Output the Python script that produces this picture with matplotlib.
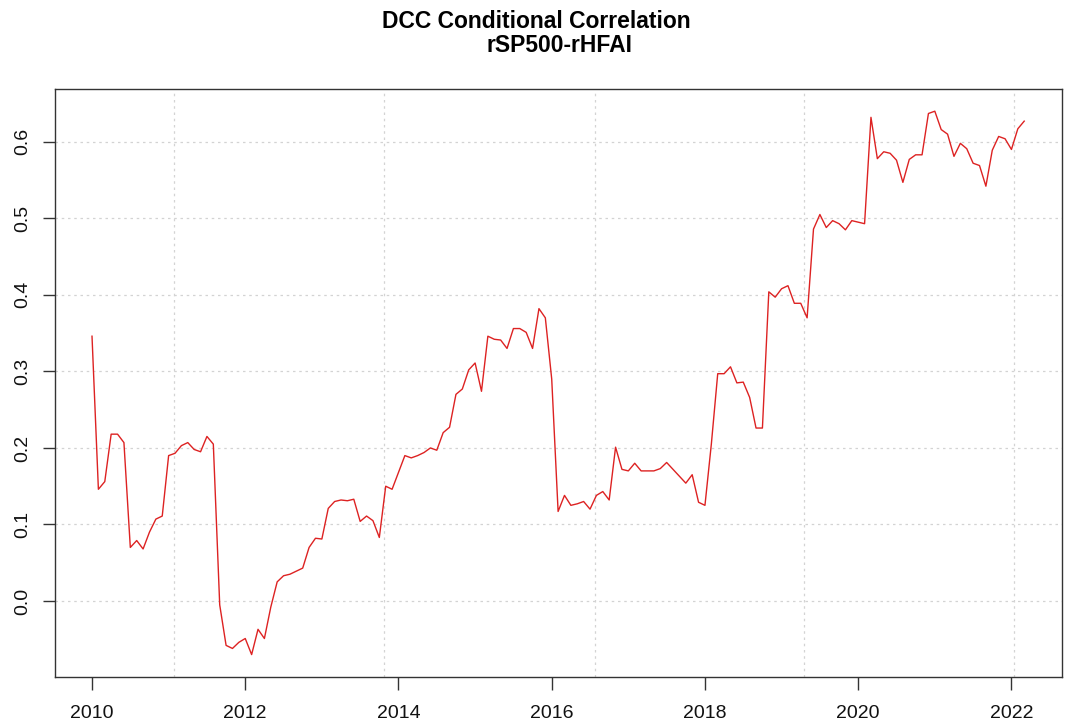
import matplotlib
matplotlib.use("Agg")
import matplotlib.pyplot as plt
import numpy as np

plt.rcParams['font.family'] = ['Liberation Sans', 'DejaVu Sans']

# monthly DCC correlation, Jan 2010 .. Mar 2022
start_year = 2010
corr = [
    0.346, 0.146, 0.156, 0.218, 0.218, 0.207, 0.070, 0.079, 0.068, 0.090, 0.107, 0.111,
    0.190, 0.193, 0.203, 0.207, 0.198, 0.195, 0.215, 0.205, -0.005, -0.058, -0.062, -0.054,
    -0.049, -0.070, -0.037, -0.049, -0.008, 0.025, 0.033, 0.035, 0.039, 0.043, 0.070, 0.082,
    0.081, 0.121, 0.130, 0.132, 0.131, 0.133, 0.104, 0.111, 0.105, 0.083, 0.150, 0.146,
    0.168, 0.190, 0.187, 0.190, 0.194, 0.200, 0.197, 0.220, 0.227, 0.270, 0.277, 0.302,
    0.311, 0.274, 0.346, 0.342, 0.341, 0.330, 0.356, 0.356, 0.351, 0.330, 0.382, 0.370,
    0.290, 0.117, 0.138, 0.125, 0.127, 0.130, 0.120, 0.138, 0.143, 0.132, 0.201, 0.172,
    0.170, 0.180, 0.170, 0.170, 0.170, 0.173, 0.181, 0.172, 0.163, 0.154, 0.165, 0.129,
    0.125, 0.205, 0.297, 0.297, 0.306, 0.285, 0.286, 0.266, 0.226, 0.226, 0.404, 0.397,
    0.408, 0.412, 0.389, 0.389, 0.370, 0.486, 0.505, 0.488, 0.497, 0.493, 0.485, 0.497,
    0.495, 0.493, 0.632, 0.578, 0.587, 0.585, 0.576, 0.547, 0.577, 0.583, 0.583, 0.637,
    0.640, 0.616, 0.610, 0.581, 0.598, 0.591, 0.572, 0.569, 0.542, 0.589, 0.607, 0.604,
    0.590, 0.617, 0.627,
]
x_ticks = [2010, 2012, 2014, 2016, 2018, 2020, 2022]
y_ticks = [0.0, 0.1, 0.2, 0.3, 0.4, 0.5, 0.6]
# vertical grid lines sit off the year ticks in the original
x_grid = [2011.07, 2013.81, 2016.56, 2019.29, 2022.03]

t = start_year + np.arange(len(corr)) / 12.0

fig = plt.figure(figsize=(10.79, 7.22), dpi=100)
ax = fig.add_axes([55/1079, 1 - 677/722, (1062-55)/1079, (677-89)/722])

for g in x_grid:
    ax.axvline(g, color='#d3d3d3', lw=0.9, ls=(0, (2, 3)), zorder=0)
for g in y_ticks:
    ax.axhline(g, color='#d3d3d3', lw=0.9, ls=(0, (2, 3)), zorder=0)

ax.plot(t, corr, color='#dd2222', lw=1.0)

ax.set_xlim(2009.517, 2022.66)
ax.set_ylim(-0.0993, 0.669)
ax.set_xticks(x_ticks)
ax.set_xticklabels([str(v) for v in x_ticks])
ax.set_yticks(y_ticks)
ax.set_yticklabels(['%.1f' % v for v in y_ticks], rotation=90, va='center')

for s in ax.spines.values():
    s.set_color('#333333')
    s.set_linewidth(1.0)
ax.tick_params(axis='both', direction='out', length=9, width=1.0, color='#333333',
               labelsize=14, labelcolor='#111111')
ax.tick_params(axis='x', pad=11)
ax.tick_params(axis='y', pad=8)

fig.text(536/1079, 1 - 22/722, 'DCC Conditional Correlation', ha='center', va='center',
         fontsize=16.5, fontweight='bold')
fig.text(559/1079, 1 - 45/722, 'rSP500-rHFAI', ha='center', va='center',
         fontsize=16.5, fontweight='bold')

fig.savefig('out.png', dpi=100)
